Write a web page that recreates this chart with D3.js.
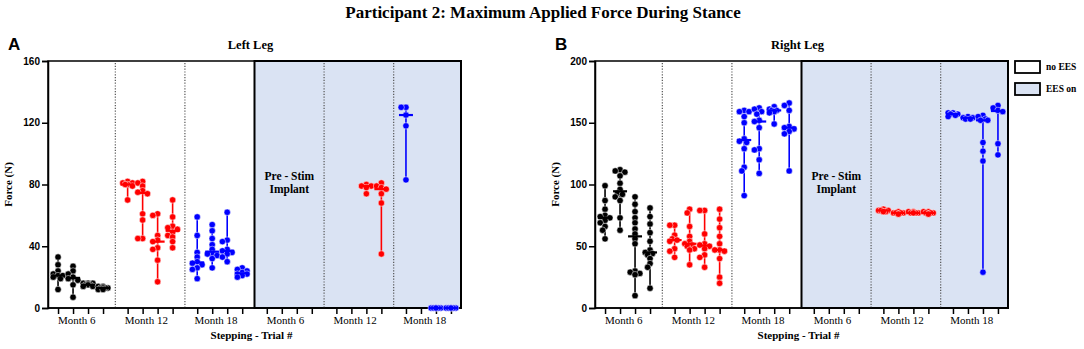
<!DOCTYPE html>
<html>
<head>
<meta charset="utf-8">
<script src="https://cdn.jsdelivr.net/npm/d3@7"></script>
<style>
  body { margin: 0; background: #fff; }
  svg { display: block; }
</style>
</head>
<body>
<div id="chart"></div>
<script>
const WIDTH = 1084, HEIGHT = 349;
const TOP = 61, BOTTOM = 308;
const SERIF = "'Liberation Serif', 'Times New Roman', serif";
const SANS = "'Liberation Sans', Arial, sans-serif";

const groupLabels = ["Month 6", "Month 12", "Month 18", "Month 6", "Month 12", "Month 18"];
const groupColors = ["#000000", "#ff0000", "#0000ff", "#000000", "#ff0000", "#0000ff"];
const legendLabels = ["no EES", "EES on"];

// left leg, each group has 4 trials (empty = no data)
const leftMonth6 = [
    [33, 28, 24, 22, 21, 21, 20, 19, 12],
    [27, 24, 22, 20, 19, 18, 15, 7],
    [16, 16, 15, 15, 14, 14, 15, 16],
    [14, 13, 13, 12, 13, 14, 12, 13]
];
const leftMonth12 = [
    [82, 81, 80, 81, 80, 79, 70],
    [82, 81, 79, 76, 75, 74, 61, 57, 45, 45],
    [61, 60, 47, 44, 43, 39, 38, 31, 17],
    [70, 59, 53, 52, 51, 49, 47, 46, 43, 39]
];
const leftMonth18 = [
    [59, 47, 36, 33, 30, 29, 28, 26, 25, 19],
    [54, 50, 45, 41, 38, 35, 35, 34, 32, 26],
    [62, 44, 43, 38, 37, 36, 35, 33, 30],
    [26, 25, 24, 23, 22, 22, 21, 20]
];
const leftStimMonth6 = [[], [], [], []];
const leftStimMonth12 = [
    [], [],
    [80, 79, 79, 78, 74],
    [81, 79, 78, 77, 74, 68, 35]
];
const leftStimMonth18 = [
    [130, 130, 125, 118, 83],
    [],
    [0, 0, 0, 0, 0, 0],
    [0, 0, 0, 0, 0, 0]
];

// right leg
const rightMonth6 = [
    [99, 87, 80, 75, 74, 73, 71, 69, 66, 63, 56],
    [112, 111, 110, 107, 101, 96, 93, 92, 90, 87, 73, 63],
    [90, 84, 78, 73, 69, 64, 60, 56, 52, 30, 29, 28, 27, 10],
    [81, 74, 68, 61, 54, 47, 45, 44, 43, 40, 36, 33, 16]
];
const rightMonth12 = [
    [67, 67, 59, 56, 55, 54, 48, 46, 41],
    [80, 77, 66, 58, 54, 52, 51, 50, 48, 47, 35],
    [79, 79, 60, 52, 51, 50, 48, 43, 41, 33],
    [80, 72, 65, 58, 52, 47, 47, 46, 40, 25, 20]
];
const rightMonth18 = [
    [160, 159, 159, 155, 150, 137, 135, 134, 129, 114, 111, 91],
    [162, 161, 159, 157, 152, 151, 146, 129, 128, 120, 109],
    [163, 161, 160, 160, 159, 158, 149],
    [166, 164, 160, 147, 146, 145, 143, 141, 111]
];
const rightStimMonth6 = [[], [], [], []];
const rightStimMonth12 = [
    [79, 79, 78, 79, 80, 78],
    [77, 77, 78, 76, 77, 77],
    [77, 78, 77, 77, 78, 77],
    [78, 77, 77, 78, 77, 76]
];
const rightStimMonth18 = [
    [158, 157, 156, 155, 157, 158],
    [154, 153, 153, 154, 155],
    [156, 155, 153, 152, 152, 134, 127, 119, 29],
    [164, 162, 160, 159, 133, 124]
];

const leftTicks = [0, 40, 80, 120, 160];
const rightTicks = [0, 50, 100, 150, 200];

const panels = [
    { letter: "A", title: "Left Leg", x0: 48, x1: 461, max: 160, ticks: leftTicks,
      groups: [leftMonth6, leftMonth12, leftMonth18, leftStimMonth6, leftStimMonth12, leftStimMonth18] },
    { letter: "B", title: "Right Leg", x0: 595, x1: 1008, max: 200, ticks: rightTicks,
      groups: [rightMonth6, rightMonth12, rightMonth18, rightStimMonth6, rightStimMonth12, rightStimMonth18] }
];

const GROUP_STEP = 4.64;  // units between group starts (4 trials + gap)
const unit = (g, j) => g * GROUP_STEP + j;
const SHADE = "#dae3f3";
const R = 3.2;

var svg = d3.select("#chart").append("svg")
    .attr("width", WIDTH)
    .attr("height", HEIGHT);

svg.append("text")
    .attr("x", 543).attr("y", 18)
    .attr("text-anchor", "middle")
    .attr("font-family", SERIF)
    .attr("font-size", 17).attr("font-weight", "bold")
    .text("Participant 2: Maximum Applied Force During Stance");

// small beeswarm so overlapping dots spread a little sideways
var swarm = function (vals, y) {
    var placed = [];
    var sorted = vals.slice().sort((a, b) => b - a);
    var offsets = [0, -1, 1, -2, 2];
    sorted.forEach(function (v) {
        var py = y(v);
        var best = 0, bestD = -1;
        for (var k = 0; k < offsets.length; k++) {
            var dx = offsets[k] * 2.4;
            var d = d3.min(placed, p => Math.hypot(p.dx - dx, p.y - py));
            if (d === undefined) d = Infinity;
            if (d >= R * 1.3) { best = dx; break; }
            if (d > bestD) { bestD = d; best = dx; }
        }
        placed.push({ dx: best, y: py, v: v });
    });
    return placed;
};

var drawPanel = function (p) {
    var x = d3.scaleLinear()
        .domain([-0.67, unit(5, 3) + 0.67])
        .range([p.x0, p.x1]);
    var y = d3.scaleLinear().domain([0, p.max]).range([BOTTOM, TOP]);

    var g = svg.append("g");

    // shaded EES-on region
    var shadeX = x((unit(2, 3) + unit(3, 0)) / 2);
    g.append("rect")
        .attr("x", p.x0).attr("y", TOP)
        .attr("width", p.x1 - p.x0).attr("height", BOTTOM - TOP)
        .attr("fill", "#fff").attr("stroke", "#000").attr("stroke-width", 1.5);
    g.append("rect")
        .attr("x", shadeX).attr("y", TOP)
        .attr("width", p.x1 - shadeX).attr("height", BOTTOM - TOP)
        .attr("fill", SHADE).attr("stroke", "#000").attr("stroke-width", 2);

    // dotted separators
    [0, 1, 3, 4].forEach(function (gi) {
        var sx = x((unit(gi, 3) + unit(gi + 1, 0)) / 2);
        g.append("line")
            .attr("x1", sx).attr("x2", sx)
            .attr("y1", TOP + 2).attr("y2", BOTTOM)
            .attr("stroke", "#555").attr("stroke-width", 1.2)
            .attr("stroke-dasharray", "1.2,1.6");
    });

    // axes
    var yAxis = d3.axisLeft(y).tickValues(p.ticks).tickSize(6).tickPadding(2);
    var ya = g.append("g")
        .attr("transform", "translate(" + p.x0 + ",0)")
        .call(yAxis);
    ya.selectAll("text")
        .attr("font-family", SANS)
        .attr("font-weight", "bold").attr("font-size", 10).attr("fill", "#000");
    ya.selectAll("line, path").attr("stroke", "#000").attr("stroke-width", 1.5);

    var trialUnits = [];
    for (var gi = 0; gi < 6; gi++) for (var j = 0; j < 4; j++) trialUnits.push(unit(gi, j));
    var xAxis = d3.axisBottom(x).tickValues(trialUnits).tickSize(6).tickFormat("");
    var xa = g.append("g")
        .attr("transform", "translate(0," + BOTTOM + ")")
        .call(xAxis);
    xa.selectAll("line, path").attr("stroke", "#000").attr("stroke-width", 1.5);
    xa.select(".domain").attr("d", "M" + p.x0 + ",0H" + p.x1);

    groupLabels.forEach(function (lab, gi) {
        g.append("text")
            .attr("x", x(unit(gi, 1.25))).attr("y", 324)
            .attr("text-anchor", "middle")
            .attr("font-family", SERIF).attr("font-size", 11)
            .text(lab);
    });

    // data
    p.groups.forEach(function (trials, gi) {
        var color = groupColors[gi];
        trials.forEach(function (vals, j) {
            if (!vals.length) return;
            var cx = x(unit(gi, j));
            var ext = d3.extent(vals);
            g.append("line")
                .attr("x1", cx).attr("x2", cx)
                .attr("y1", y(ext[0])).attr("y2", y(ext[1]))
                .attr("stroke", color).attr("stroke-width", 1.6);
            var pts = swarm(vals, y);
            g.selectAll(null)
                .data(pts)
                .enter()
                .append("circle")
                .attr("cx", d => cx + d.dx)
                .attr("cy", d => d.y)
                .attr("r", R)
                .attr("fill", color)
                .attr("stroke", "#fff").attr("stroke-width", 0.5);
            var med = d3.median(vals);
            g.append("line")
                .attr("x1", cx - 7).attr("x2", cx + 7)
                .attr("y1", y(med)).attr("y2", y(med))
                .attr("stroke", color).attr("stroke-width", 2.2);
        });
    });

    // pre-stim note
    var nx = x(unit(3, 1.5));
    var note = g.append("text")
        .attr("text-anchor", "middle")
        .attr("font-family", SERIF)
        .attr("font-size", 11.5).attr("font-weight", "bold");
    note.append("tspan").attr("x", nx).attr("y", 180).text("Pre - Stim");
    note.append("tspan").attr("x", nx).attr("y", 193).text("Implant");

    // titles
    var mid = (p.x0 + p.x1) / 2;
    svg.append("text")
        .attr("x", mid - 4).attr("y", 49)
        .attr("text-anchor", "middle")
        .attr("font-family", SERIF)
        .attr("font-size", 12.5).attr("font-weight", "bold")
        .text(p.title);
    svg.append("text")
        .attr("x", p.x0 - 40).attr("y", 50)
        .attr("font-family", SANS)
        .attr("font-size", 17).attr("font-weight", "bold")
        .text(p.letter);
    svg.append("text")
        .attr("transform", "translate(" + (p.x0 - 36) + "," + ((TOP + BOTTOM) / 2) + ") rotate(-90)")
        .attr("text-anchor", "middle")
        .attr("font-family", SERIF)
        .attr("font-size", 11).attr("font-weight", "bold")
        .text("Force (N)");
    svg.append("text")
        .attr("x", mid - 3).attr("y", 339)
        .attr("text-anchor", "middle")
        .attr("font-family", SERIF)
        .attr("font-size", 11).attr("font-weight", "bold")
        .text("Stepping - Trial #");
};

panels.forEach(drawPanel);

// legend
var legend = svg.append("g").attr("transform", "translate(1015,61)");
legendLabels.forEach(function (lab, i) {
    legend.append("rect")
        .attr("x", 0).attr("y", i * 22)
        .attr("width", 25).attr("height", 12)
        .attr("fill", i === 0 ? "#fff" : SHADE)
        .attr("stroke", "#000").attr("stroke-width", 1.8);
    legend.append("text")
        .attr("x", 31).attr("y", i * 22 + 9)
        .attr("font-family", SERIF)
        .attr("font-size", 9.5).attr("font-weight", "bold")
        .text(lab);
});
</script>
</body>
</html>
